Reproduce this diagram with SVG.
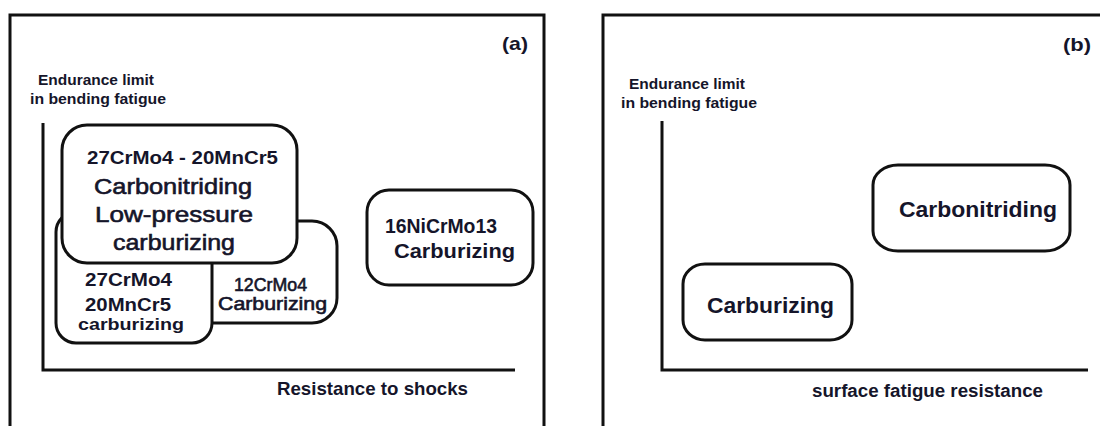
<svg xmlns="http://www.w3.org/2000/svg" width="1100" height="426" viewBox="0 0 1100 426">
<style>
.frame{fill:none;stroke:#111;stroke-width:3}
.axis{fill:none;stroke:#111;stroke-width:3}
.box{fill:#fff;stroke:#111;stroke-width:3}
text{font-family:"Liberation Sans",Arial,sans-serif;fill:#15152a;font-weight:bold}
.reg{font-weight:normal;stroke:#15152a;stroke-width:0.6}
</style>
<rect width="1100" height="426" fill="#fff"/>
<g id="panel-a">
  <path class="frame" d="M10,426 V15 H544 V426"/>
  <text x="502" y="50" font-size="19" textLength="26" lengthAdjust="spacingAndGlyphs">(a)</text>
  <text x="38" y="85" font-size="14" textLength="116" lengthAdjust="spacingAndGlyphs">Endurance limit</text>
  <text x="30" y="104" font-size="14" textLength="136" lengthAdjust="spacingAndGlyphs">in bending fatigue</text>
  <text x="277" y="395" font-size="19" textLength="191" lengthAdjust="spacingAndGlyphs">Resistance to shocks</text>
</g>
<g id="panel-b">
  <path class="frame" d="M603,426 V15 H1100"/>
  <text x="1063" y="51" font-size="19" textLength="28" lengthAdjust="spacingAndGlyphs">(b)</text>
  <text x="629" y="89" font-size="14" textLength="116" lengthAdjust="spacingAndGlyphs">Endurance limit</text>
  <text x="621" y="108" font-size="14" textLength="136" lengthAdjust="spacingAndGlyphs">in bending fatigue</text>
  <text x="812" y="397" font-size="18" textLength="231" lengthAdjust="spacingAndGlyphs">surface fatigue resistance</text>
</g>
<g id="axes">
  <path class="axis" d="M43,123 V370 H515"/>
  <path class="axis" d="M662,121 V370 H1088"/>
</g>
<g id="node-12CrMo4">
  <rect class="box" x="180" y="221" width="157" height="102" rx="25" ry="25"/>
  <text class="reg" x="234" y="291" font-size="18" textLength="73" lengthAdjust="spacingAndGlyphs">12CrMo4</text>
  <text class="reg" x="218" y="310" font-size="18" textLength="109" lengthAdjust="spacingAndGlyphs">Carburizing</text>
</g>
<g id="node-27CrMo4-20MnCr5-carburizing">
  <rect class="box" x="56" y="212" width="156" height="131" rx="20" ry="20"/>
  <text x="85" y="286" font-size="18" textLength="87" lengthAdjust="spacingAndGlyphs">27CrMo4</text>
  <text x="85" y="311" font-size="18" textLength="86" lengthAdjust="spacingAndGlyphs">20MnCr5</text>
  <text x="78" y="330" font-size="17" textLength="106" lengthAdjust="spacingAndGlyphs">carburizing</text>
</g>
<g id="node-carbonitriding-lpc">
  <rect class="box" x="62" y="125" width="235" height="138" rx="25" ry="25"/>
  <text x="87" y="164" font-size="19" textLength="191" lengthAdjust="spacingAndGlyphs">27CrMo4 - 20MnCr5</text>
  <text class="reg" x="94" y="194" font-size="22" textLength="158" lengthAdjust="spacingAndGlyphs">Carbonitriding</text>
  <text class="reg" x="95" y="222" font-size="22" textLength="158" lengthAdjust="spacingAndGlyphs">Low-pressure</text>
  <text class="reg" x="113" y="250" font-size="22" textLength="122" lengthAdjust="spacingAndGlyphs">carburizing</text>
</g>
<g id="node-16NiCrMo13">
  <rect class="box" x="367" y="190" width="166" height="95" rx="22" ry="22"/>
  <text x="385" y="233" font-size="20" textLength="112" lengthAdjust="spacingAndGlyphs">16NiCrMo13</text>
  <text x="394" y="258" font-size="21" textLength="121" lengthAdjust="spacingAndGlyphs">Carburizing</text>
</g>
<g id="node-b-carbonitriding">
  <rect class="box" x="873" y="165" width="197" height="86" rx="25" ry="20"/>
  <text x="899" y="217" font-size="22" textLength="158" lengthAdjust="spacingAndGlyphs">Carbonitriding</text>
</g>
<g id="node-b-carburizing">
  <rect class="box" x="683" y="264" width="169" height="76" rx="22" ry="20"/>
  <text x="707" y="313" font-size="22" textLength="127" lengthAdjust="spacingAndGlyphs">Carburizing</text>
</g>
</svg>
